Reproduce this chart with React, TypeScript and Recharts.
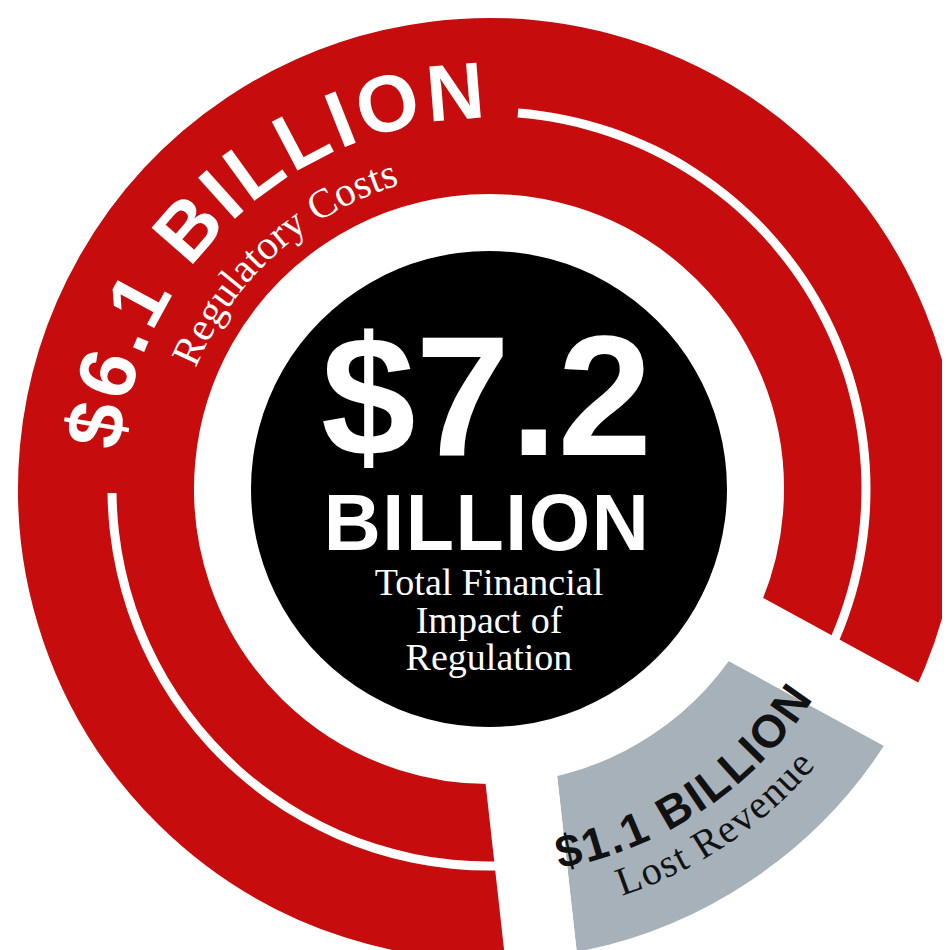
import { PieChart, Pie, Cell } from "recharts";

const categories = ["Lost Revenue", "Regulatory Costs"];
const amounts = [1.1, 6.1]; // $ billions
const amountLabels = ["$1.1 BILLION", "$6.1 BILLION"];
const totalAmount = [7.2];
const totalLabels = ["$7.2", "BILLION"];
const totalCaption = ["Total Financial", "Impact of", "Regulation"];
const dividerArcs = [1]; // thin white line running inside the ring

const RED = "#C60C0C";
const GRAY = "#A7B1BA";
const colors = [GRAY, RED];
const inkColors = ["#111111", "#FFFFFF"];

const W = 942;
const H = 942;
const CX = 476;
const CY = 476;
const OUTER = 471;
const INNER = 295;
const GAP = 72; // white gap between the slices, drawn as a white stroke
const DISC = 238;

const SANS = '"Liberation Sans", Arial, sans-serif';
const SERIF = '"Liberation Serif", "Times New Roman", serif';

// gray slice is centred where it sits in the original artwork
const sum = amounts.reduce((a, b) => a + b, 0);
const grayCenter = -56.15;
const startAngle = grayCenter - (amounts[0] / sum) * 180;
const gapRight = startAngle + (amounts[0] / sum) * 360;
const gapBottom = startAngle + 360;

const pieData = categories.map((name, i) => ({ name, value: amounts[i] }));

// curved label layout per slice (angles ccw from 3 o'clock)
const labelLayout = [
  { angle: -56, mainR: 386, mainSize: 46, mainSpacing: 2.5, subR: 428, subSize: 40, subSpacing: 1.4, clockwise: false },
  { angle: 132, mainR: 371, mainSize: 80, mainSpacing: 4, subR: 317, subSize: 41, subSpacing: 0, clockwise: true },
];

const polar = (cx: number, cy: number, r: number, deg: number) => {
  const a = (deg * Math.PI) / 180;
  return [cx + r * Math.cos(a), cy - r * Math.sin(a)];
};

const arcPath = (cx: number, cy: number, r: number, center: number, half: number, clockwise: boolean) => {
  const from = clockwise ? center + half : center - half;
  const to = clockwise ? center - half : center + half;
  const [x0, y0] = polar(cx, cy, r, from);
  const [x1, y1] = polar(cx, cy, r, to);
  return `M${x0},${y0} A${r},${r} 0 0 ${clockwise ? 1 : 0} ${x1},${y1}`;
};

const renderSliceLabel = (props: any) => {
  const index = props.index;
  const cx = props.cx ?? CX;
  const cy = props.cy ?? CY;
  const l = labelLayout[index];
  const mainId = `main-arc-${index}`;
  const subId = `sub-arc-${index}`;
  return (
    <g key={`slice-label-${index}`}>
      <defs>
        <path id={mainId} d={arcPath(cx, cy, l.mainR, l.angle, 70, l.clockwise)} />
        <path id={subId} d={arcPath(cx, cy, l.subR, l.angle, 70, l.clockwise)} />
      </defs>
      <text
        fill={inkColors[index]}
        fontFamily={SANS}
        fontWeight={700}
        fontSize={l.mainSize}
        style={{ letterSpacing: l.mainSpacing }}
      >
        <textPath href={`#${mainId}`} startOffset="50%" textAnchor="middle">
          {amountLabels[index]}
        </textPath>
      </text>
      <text
        fill={inkColors[index]}
        fontFamily={SERIF}
        fontSize={l.subSize}
        style={{ letterSpacing: l.subSpacing }}
      >
        <textPath href={`#${subId}`} startOffset="50%" textAnchor="middle">
          {categories[index]}
        </textPath>
      </text>
    </g>
  );
};

const renderTotalLabel = (props: any) => {
  const cx = props.cx ?? CX;
  const cy = props.cy ?? CY;
  return (
    <g key="total-label" fill="#FFFFFF">
      <text x={cx - 2.5} y={cy - 34} textAnchor="middle" fontFamily={SANS} fontWeight={700} fontSize={170}>
        {totalLabels[0]}
      </text>
      <text
        x={cx - 2}
        y={cy + 61}
        textAnchor="middle"
        fontFamily={SANS}
        fontWeight={700}
        fontSize={79}
        style={{ letterSpacing: 1.5 }}
      >
        {totalLabels[1]}
      </text>
      {totalCaption.map((line, i) => (
        <text key={line} x={cx} y={cy + 106 + i * 37.5} textAnchor="middle" fontFamily={SERIF} fontSize={38}>
          {line}
        </text>
      ))}
    </g>
  );
};

export default function App() {
  const divider = dividerArcs.map((v) => ({ value: v }));
  return (
    <PieChart width={W} height={H}>
      <Pie
        data={pieData}
        dataKey="value"
        nameKey="name"
        cx={CX}
        cy={CY}
        startAngle={startAngle}
        endAngle={startAngle + 360}
        innerRadius={INNER - GAP / 2}
        outerRadius={OUTER + GAP / 2}
        stroke="#FFFFFF"
        strokeWidth={GAP}
        label={renderSliceLabel}
        labelLine={false}
        isAnimationActive={false}
      >
        {pieData.map((d, i) => (
          <Cell key={d.name} fill={colors[i]} stroke="#FFFFFF" strokeWidth={GAP} />
        ))}
      </Pie>
      <Pie
        data={divider}
        dataKey="value"
        cx={CX}
        cy={CY}
        startAngle={85.6}
        endAngle={gapRight}
        innerRadius={372.5}
        outerRadius={381.5}
        fill="#FFFFFF"
        stroke="none"
        isAnimationActive={false}
      />
      <Pie
        data={divider}
        dataKey="value"
        cx={CX}
        cy={CY}
        startAngle={180.6}
        endAngle={gapBottom}
        innerRadius={372.5}
        outerRadius={381.5}
        fill="#FFFFFF"
        stroke="none"
        isAnimationActive={false}
      />
      <Pie
        data={[{ name: "Total", value: totalAmount[0] }]}
        dataKey="value"
        cx={CX}
        cy={CY}
        innerRadius={0}
        outerRadius={DISC}
        fill="#000000"
        stroke="none"
        label={renderTotalLabel}
        labelLine={false}
        isAnimationActive={false}
      />
    </PieChart>
  );
}
